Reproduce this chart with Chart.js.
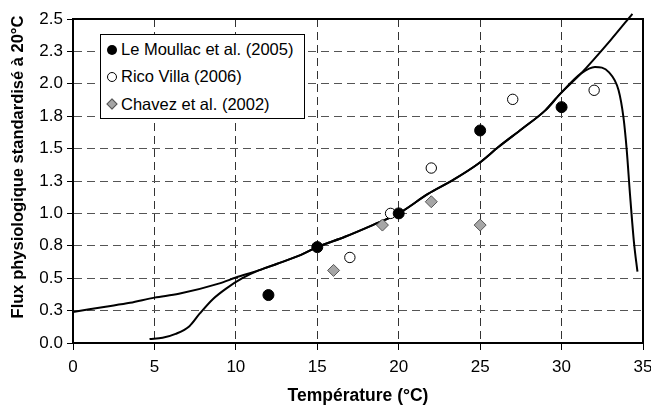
<!DOCTYPE html>
<html>
<head>
<meta charset="utf-8">
<script src="https://cdn.jsdelivr.net/npm/chart.js@4.4.0/dist/chart.umd.min.js"></script>
<style>
  body { margin: 0; background: #fff; }
  #wrap { position: relative; width: 651px; height: 407px; }
  #legend {
    position: absolute; left: 100px; top: 34px; width: 203px; height: 82px;
    border: 1px solid #000; background: #fff; padding-top: 1px;
    font: 16.5px "Liberation Sans", Arial, sans-serif; color: #000;
  }
  .row { height: 27.3px; display: flex; align-items: center; }
  .mk { width: 10px; height: 10px; margin-left: 6px; margin-right: 4px; box-sizing: border-box; }
</style>
</head>
<body>
<div id="wrap">
  <canvas id="chart" width="651" height="407"></canvas>
  <div id="legend"></div>
</div>
<script>
// measured points (temperature °C, standardised flux)
const leMoullacT = [12, 15, 20, 25, 30];
const leMoullacV = [0.37, 0.74, 1.0, 1.64, 1.82];
const ricoT = [17, 19.5, 22, 27, 32];
const ricoV = [0.66, 1.0, 1.35, 1.88, 1.95];
const chavezT = [16, 19, 22, 25];
const chavezV = [0.56, 0.91, 1.09, 0.91];

// model curves
const curve1T = [0, 2, 3.5, 5, 6.5, 9, 10, 11.4, 12.5, 14, 15, 16.7, 18.4, 20, 21.8, 23.3, 24.9, 26.1, 27.6, 29, 29.9, 31.2, 33, 34.35];
const curve1V = [0.24, 0.28, 0.31, 0.35, 0.38, 0.46, 0.505, 0.56, 0.61, 0.68, 0.74, 0.82, 0.91, 1.0, 1.15, 1.255, 1.385, 1.51, 1.655, 1.795, 1.92, 2.08, 2.335, 2.54];
const curve2T = [4.7, 5.5, 6.3, 7.15, 7.8, 8.6, 9.4, 10.4, 11.4, 12.5, 14, 15, 16.7, 18.4, 20, 21.8, 23.3, 24.9, 26.1, 27.6, 29, 29.9, 31.2, 32.05, 32.9, 33.5, 33.8, 34.0, 34.2, 34.45, 34.66];
const curve2V = [0.03, 0.04, 0.07, 0.13, 0.23, 0.34, 0.42, 0.5, 0.56, 0.61, 0.68, 0.74, 0.82, 0.91, 1.0, 1.15, 1.255, 1.385, 1.51, 1.655, 1.795, 1.92, 2.08, 2.13, 2.09, 1.95, 1.74, 1.49, 1.15, 0.77, 0.55];

const seriesNames = ['Le Moullac et al. (2005)', 'Rico Villa (2006)', 'Chavez et al. (2002)'];
const yTickLabels = ['0.0', '0.3', '0.5', '0.8', '1.0', '1.3', '1.5', '1.8', '2.0', '2.3', '2.5'];
const xTickLabels = ['0', '5', '10', '15', '20', '25', '30', '35'];
const xTitle = 'Température (°C)';
const yTitle = 'Flux physiologique standardisé à 20°C';

const FONT = '"Liberation Sans", Arial, sans-serif';
const pts = (xs, ys) => xs.map((x, i) => ({ x, y: ys[i] }));

// frame around the plot + rotated y title
const framePlugin = {
  id: 'frame',
  afterDraw(chart) {
    const { ctx, chartArea: a } = chart;
    ctx.save();
    ctx.strokeStyle = '#000';
    ctx.lineWidth = 2;
    ctx.strokeRect(a.left, a.top, a.right - a.left, a.bottom - a.top);
    ctx.translate(18, 167);
    ctx.rotate(-Math.PI / 2);
    ctx.font = 'bold 16.5px ' + FONT;
    ctx.fillStyle = '#000';
    ctx.textAlign = 'center';
    ctx.textBaseline = 'middle';
    ctx.fillText(yTitle, 0, 0);
    ctx.restore();
  }
};

const lineStyle = {
  showLine: true, borderColor: '#000', borderWidth: 2, pointRadius: 0,
  cubicInterpolationMode: 'monotone', order: 2
};

const chart = new Chart(document.getElementById('chart'), {
  type: 'scatter',
  data: {
    datasets: [
      { label: seriesNames[0], data: pts(leMoullacT, leMoullacV), pointStyle: 'circle',
        pointRadius: 5.5, backgroundColor: '#000', borderColor: '#000', borderWidth: 1, order: 0 },
      { label: seriesNames[1], data: pts(ricoT, ricoV), pointStyle: 'circle',
        pointRadius: 5.2, backgroundColor: '#fff', borderColor: '#000', borderWidth: 1, order: 0 },
      { label: seriesNames[2], data: pts(chavezT, chavezV), pointStyle: 'rectRot',
        pointRadius: 6, backgroundColor: '#a6a6a6', borderColor: '#555', borderWidth: 1, order: 0 },
      { label: 'curve1', data: pts(curve1T, curve1V), ...lineStyle, clip: false },
      { label: 'curve2', data: pts(curve2T, curve2V), ...lineStyle }
    ]
  },
  options: {
    responsive: false,
    animation: false,
    layout: { padding: { top: 19, right: 8, bottom: 0, left: 0 }, autoPadding: false },
    plugins: { legend: { display: false }, tooltip: { enabled: false } },
    scales: {
      x: {
        type: 'linear', min: 0, max: 35,
        afterFit: s => { s.height = 64; s.paddingLeft = 0; s.paddingRight = 0; },
        ticks: { stepSize: 5, padding: 7, color: '#000', font: { family: FONT, size: 17 },
          callback: (v, i) => xTickLabels[i] },
        grid: { color: '#333', tickColor: '#000', tickLength: 7, lineWidth: 1 },
        border: { color: '#000', width: 2, dash: [8, 5] },
        title: { display: true, text: xTitle, color: '#000',
          font: { family: FONT, size: 17.5, weight: 'bold' }, padding: { top: 0, bottom: 0 } }
      },
      y: {
        type: 'linear', min: 0, max: 2.5,
        afterFit: s => { s.width = 73; s.paddingTop = 0; s.paddingBottom = 0; },
        ticks: { stepSize: 0.25, padding: 4, color: '#000', font: { family: FONT, size: 17 },
          callback: (v, i) => yTickLabels[i] },
        grid: { color: '#555', tickColor: '#000', tickLength: 6, lineWidth: 1 },
        border: { color: '#000', width: 2, dash: [8, 5] }
      }
    }
  },
  plugins: [framePlugin]
});

// legend box drawn as HTML text over the plot
const markerCss = [
  'border-radius:50%;background:#000;',
  'border-radius:50%;background:#fff;border:1px solid #000;',
  'width:8px;height:8px;transform:rotate(45deg);background:#a6a6a6;border:1px solid #555;margin-left:7px;margin-right:5px;'
];
document.getElementById('legend').innerHTML = seriesNames.map((n, i) =>
  '<div class="row"><span class="mk" style="' + markerCss[i] + '"></span><span>' + n + '</span></div>'
).join('');
</script>
</body>
</html>
